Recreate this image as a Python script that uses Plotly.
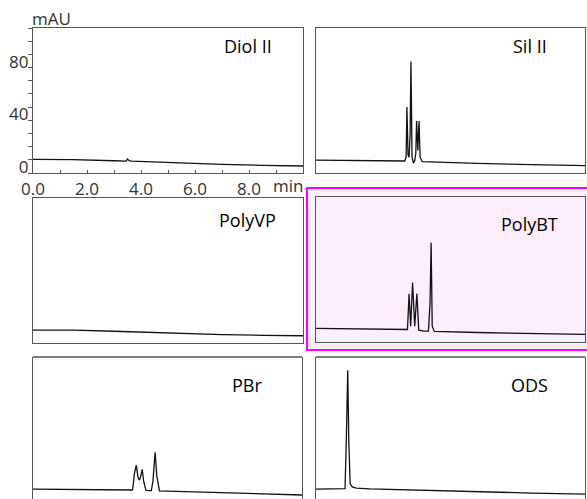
import plotly.graph_objects as go

# ---------------- data (time in min, signal in mAU) ----------------
names = ["Diol II", "Sil II", "PolyVP", "PolyBT", "PBr", "ODS"]

diol_t = [0, 1.5, 3.0, 3.3, 3.4, 3.45, 3.5, 3.56, 3.65, 5.0, 7.0, 8.5, 10]
diol_v = [10.3, 10.2, 9.3, 9.0, 9.4, 9.0, 10.6, 9.4, 9.0, 7.8, 6.5, 5.8, 5.3]

sil_t = [0, 1.5, 3.0, 3.3, 3.35, 3.38, 3.42, 3.46, 3.50, 3.53, 3.57, 3.62, 3.67,
         3.71, 3.74, 3.785, 3.83, 3.87, 3.95, 4.5, 6.0, 8.0, 10.0]
sil_v = [9.8, 9.7, 9.2, 9.1, 12, 50, 14, 12, 30, 84.5, 12, 7.5, 9.5,
         15, 39.5, 17, 39.5, 12, 8.6, 8.2, 7.3, 6.3, 5.6]

pvp_t = [0, 1.5, 3, 5, 7, 8.5, 10]
pvp_v = [9.8, 9.7, 8.9, 7.5, 6.4, 5.8, 5.5]

pbt_t = [0, 2.0, 3.3, 3.40, 3.46, 3.52, 3.59, 3.67, 3.75, 3.82, 4.0, 4.18,
         4.24, 4.28, 4.32, 4.4, 6.0, 8.0, 10.0]
pbt_v = [10.3, 9.7, 9.0, 9.5, 36.5, 12, 45.2, 12, 36.8, 9, 8.2, 8.3,
         30, 75.2, 12, 8.0, 7.2, 6.4, 5.8]

pbr_t = [0, 1.5, 3.0, 3.70, 3.73, 3.77, 3.84, 3.90, 3.96, 4.00, 4.06, 4.12,
         4.20, 4.40, 4.46, 4.54, 4.60, 4.70, 5.0, 6.5, 8.5, 10]
pbr_v = [9.8, 9.6, 9.3, 9.1, 14, 21.5, 27.9, 19, 16.6, 19, 24.7, 15,
         8.8, 8.6, 16, 37.7, 20, 8.4, 8.2, 7.2, 6.0, 5.3]

ods_t = [0, 0.8, 1.08, 1.13, 1.18, 1.22, 1.27, 1.35, 1.5, 2.0, 4.0, 6.0, 8.0, 10]
ods_v = [9.8, 10.0, 10.2, 50, 100, 45, 14, 11.5, 10.5, 10.0, 8.8, 7.8, 6.8, 6.0]

series_t = [diol_t, sil_t, pvp_t, pbt_t, pbr_t, ods_t]
series_v = [diol_v, sil_v, pvp_v, pbt_v, pbr_v, ods_v]

x_tickvals = [0, 1, 2, 3, 4, 5, 6, 7, 8, 9, 10]
x_ticktext = ["0.0", "", "2.0", "", "4.0", "", "6.0", "", "8.0", "", ""]
y_tickvals = [0, 10, 20, 30, 40, 50, 60, 70, 80, 90, 100, 110]
y_ticktext = ["0", "", "", "", "40", "", "", "", "80", "", "", ""]

# ---------------- layout geometry (pixels) ----------------
W, H = 587, 499


def fx(px):
    return px / W


def fy(py):
    return 1 - py / H


# (x0, x1, ytop, ybottom, title_y_px, y_range)
geo = [
    (33, 303, 28, 173, 46, [0, 110]),
    (316, 585, 28, 173, 46, [0, 110]),
    (33, 303, 198, 343, 220, [0, 110]),
    (316, 585, 197, 342, 224, [0, 110]),
    (33, 302, 357, 502, 385, [0, 110]),
    (316, 585, 357, 502, 385, [0, 110]),
]

FONT = "Open Sans"
LINEC = "#555555"

fig = go.Figure()
layout = dict(
    width=W, height=H,
    margin=dict(l=0, r=0, t=0, b=0, autoexpand=False),
    paper_bgcolor="white",
    plot_bgcolor="rgba(0,0,0,0)",
    showlegend=False,
    font=dict(family=FONT, size=17, color="#333333"),
)
annotations = []
shapes = [dict(type="rect", xref="paper", yref="paper",
               x0=fx(307), x1=fx(592), y0=fy(350), y1=fy(188),
               fillcolor="#fdeefd",
               line=dict(color="#ff00ff", width=2), layer="below")]
for i, (name, t, v, g) in enumerate(zip(names, series_t, series_v, geo)):
    k = "" if i == 0 else str(i + 1)
    x0, x1, yt, yb, ty, yr = g
    bottom = i >= 4
    if bottom:
        # panel continues below the picture edge: show only the visible part
        yr = [yr[1] - (H - yt) * (yr[1] - yr[0]) / (yb - yt), yr[1]]
        yb = H
    fig.add_trace(go.Scatter(x=t, y=v, mode="lines",
                             line=dict(color="#111111", width=1.3),
                             xaxis="x" + k, yaxis="y" + k, hoverinfo="skip",
                             cliponaxis=True))
    xa = dict(domain=[fx(x0), fx(x1)], range=[0, 10], anchor="y" + k,
              showline=not bottom, linecolor=LINEC, linewidth=1.3,
              mirror=True, showgrid=False, zeroline=False,
              showticklabels=False, ticks="", fixedrange=True,
              automargin=False)
    ya = dict(domain=[fy(yb), fy(yt)], range=yr, anchor="x" + k,
              showline=True, linecolor=LINEC, linewidth=1.3, mirror=True,
              showgrid=False, zeroline=False, showticklabels=False, ticks="",
              fixedrange=True, automargin=False)
    if bottom:
        shapes.append(dict(type="line", xref="x%s domain" % k,
                           yref="y%s domain" % k, x0=0, x1=1, y0=1, y1=1,
                           line=dict(color=LINEC, width=1.3)))
    if i == 0:
        xa.update(tickmode="array", tickvals=x_tickvals, ticktext=x_ticktext,
                  ticks="inside", ticklen=3, tickcolor=LINEC,
                  showticklabels=True)
        ya.update(tickmode="array", tickvals=y_tickvals, ticktext=y_ticktext,
                  ticks="outside", ticklen=4, tickcolor=LINEC,
                  showticklabels=True, ticklabelshift=-6,
                  ticklabelstandoff=-4)
    layout["xaxis" + k] = xa
    layout["yaxis" + k] = ya
    annotations.append(dict(text=name, xref="x%s domain" % k, yref="paper",
                            x=0.795, y=fy(ty), xanchor="center",
                            yanchor="middle", showarrow=False,
                            font=dict(family=FONT, size=18, color="#000000")))

annotations.append(dict(text="mAU", xref="paper", yref="paper", x=fx(51),
                        y=fy(18), xanchor="center", yanchor="middle",
                        showarrow=False,
                        font=dict(family=FONT, size=17, color="#333333")))
annotations.append(dict(text="min", xref="paper", yref="paper", x=fx(288),
                        y=fy(186), xanchor="center", yanchor="middle",
                        showarrow=False,
                        font=dict(family=FONT, size=17, color="#333333")))
layout["annotations"] = annotations
layout["shapes"] = shapes
fig.update_layout(**layout)
fig.write_html("out.html")
